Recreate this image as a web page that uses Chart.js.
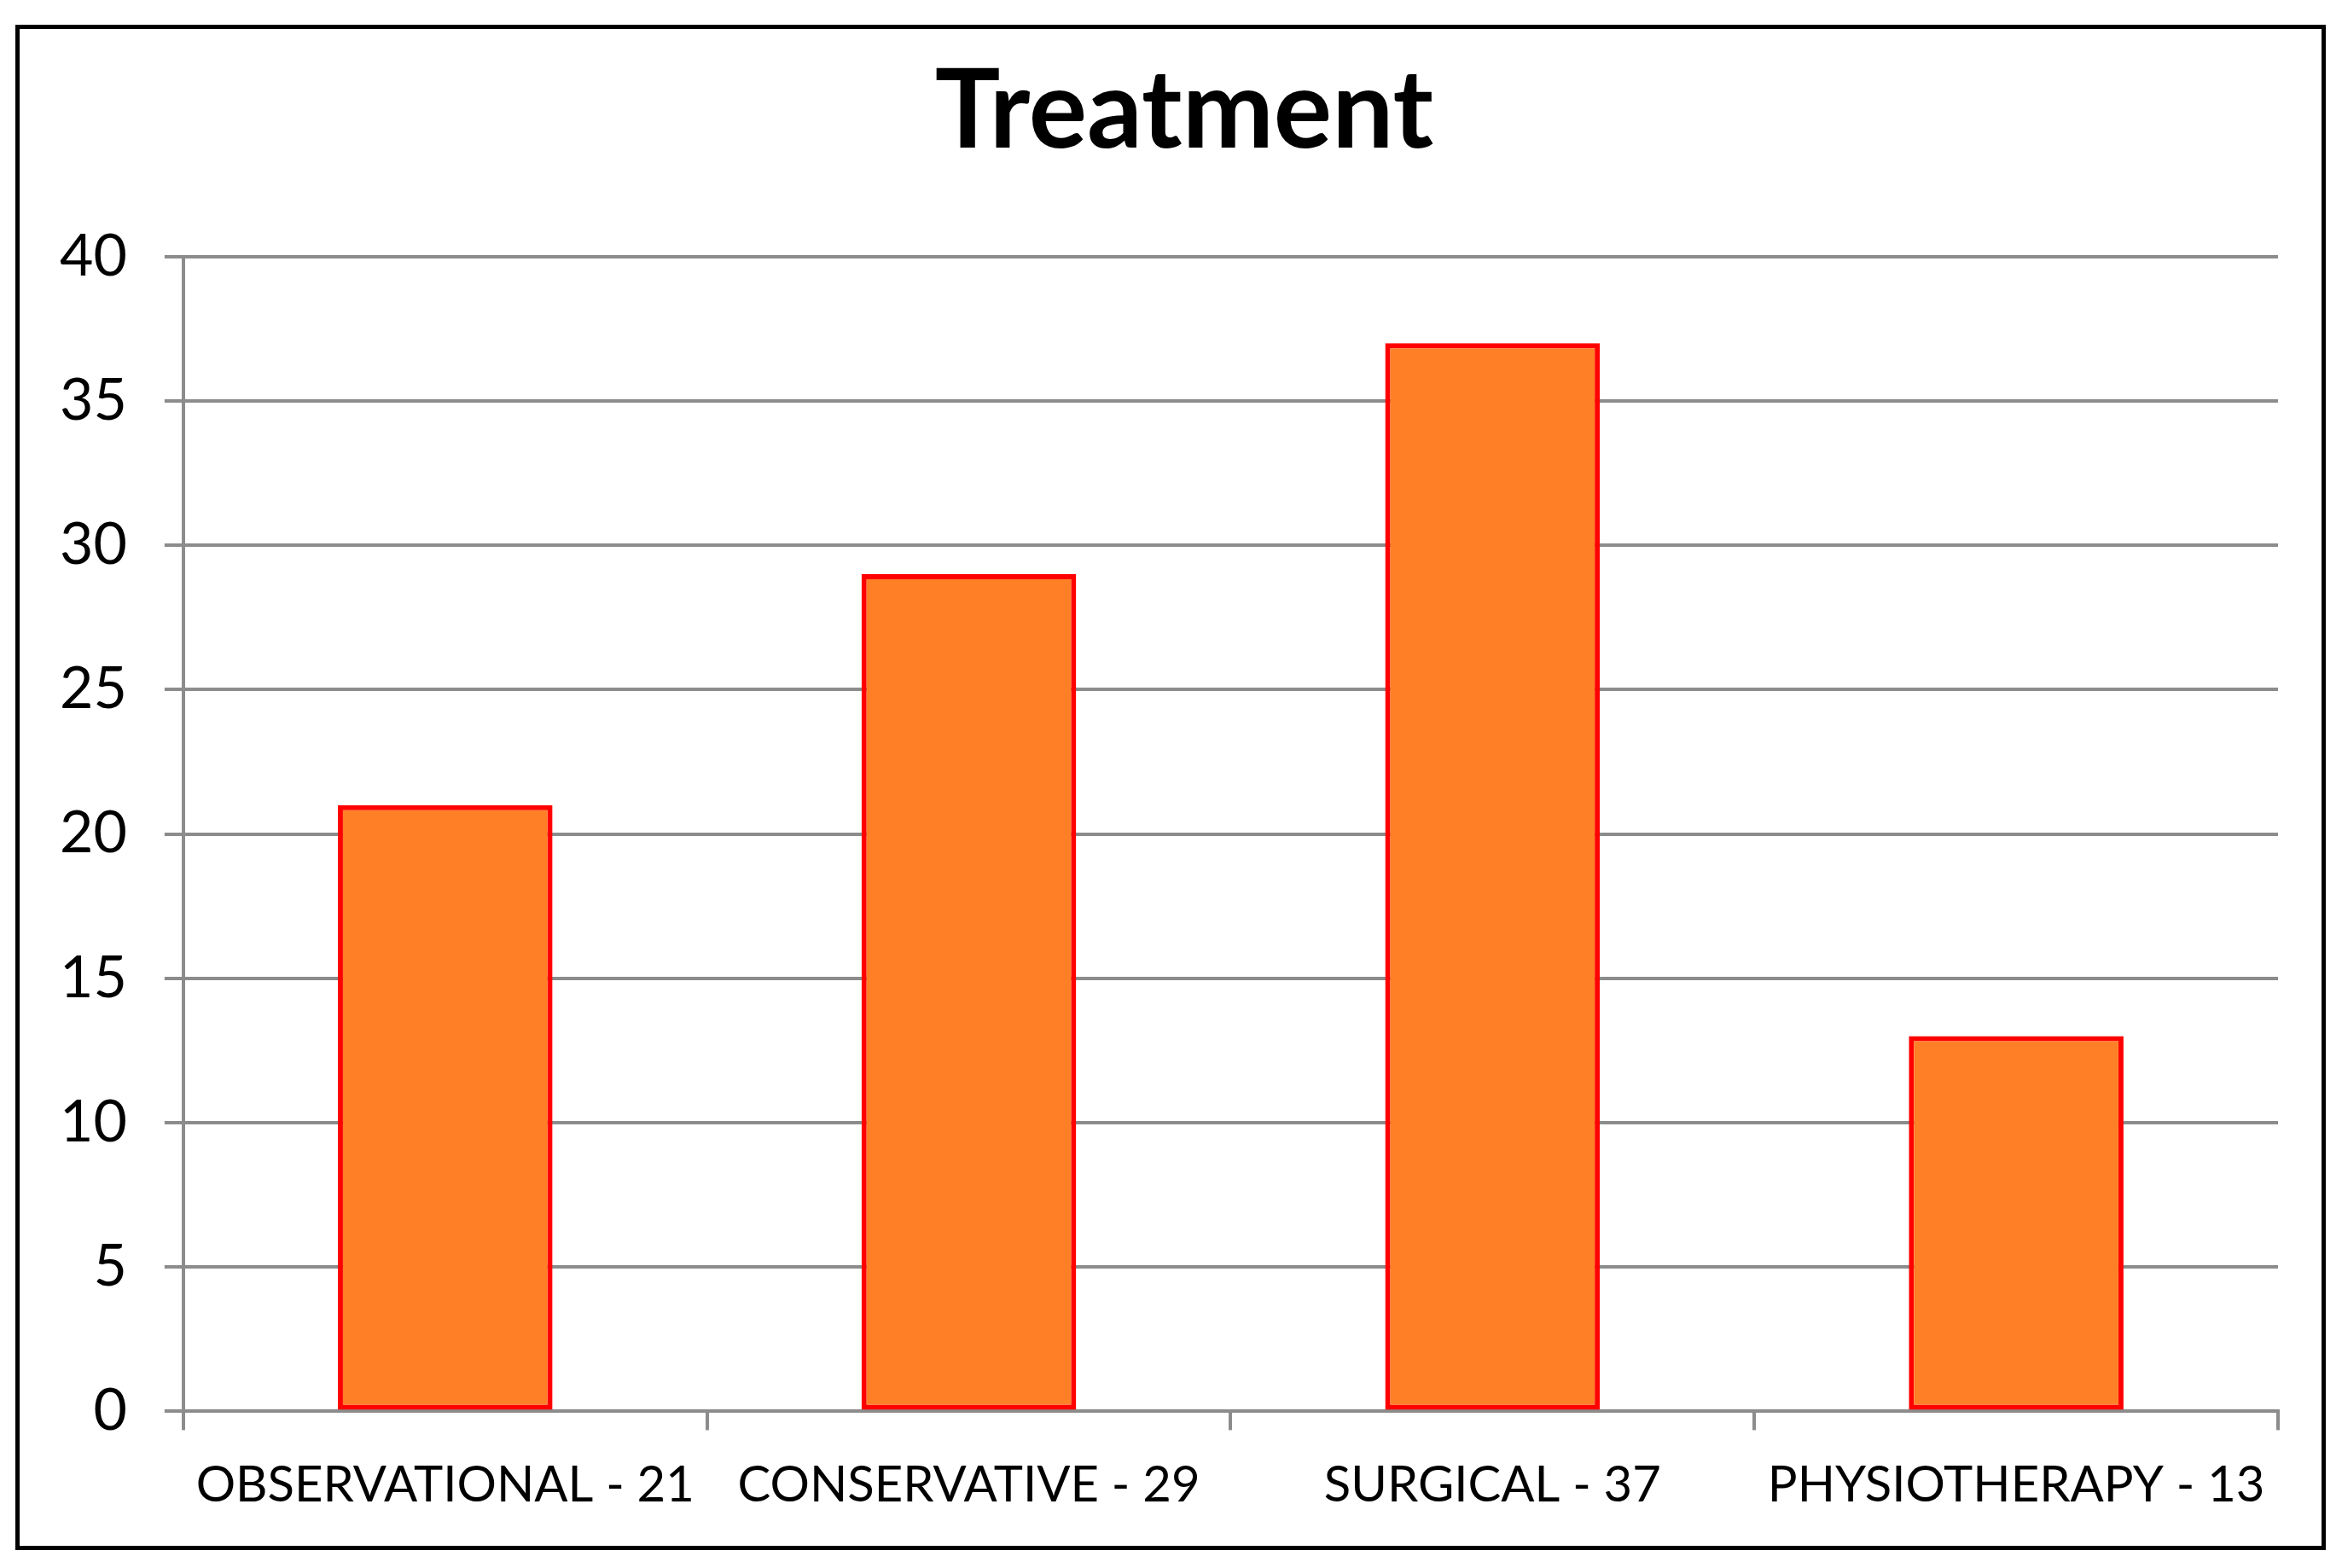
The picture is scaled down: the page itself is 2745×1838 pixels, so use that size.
<!DOCTYPE html>
<html>
<head>
<meta charset="utf-8">
<script src="https://cdn.jsdelivr.net/npm/chart.js@4.4.0/dist/chart.umd.min.js"></script>
<style>
    body { margin: 0; background: #fff; overflow: hidden; }
    #frame {
        position: absolute;
        left: 18px;
        top: 29px;
        width: 2698px;
        height: 1778px;
        border: 5px solid #000;
    }
    canvas { display: block; }
</style>
</head>
<body>
<div id="frame">
    <canvas id="myChart" width="2738" height="1778"></canvas>
</div>
<script>
const categorias = ['OBSERVATIONAL - 21', 'CONSERVATIVE - 29', 'SURGICAL - 37', 'PHYSIOTHERAPY - 13'];
const pacientes = [21, 29, 37, 13];
const yTicks = [0, 5, 10, 15, 20, 25, 30, 35, 40];

const grisEje = '#8c8c8c';

//*** chart

const ctx = document.getElementById('myChart');
new Chart(ctx, {
    type: 'bar',
    data: {
        labels: categorias,
        datasets: [{
            label: 'Treatment',
            data: pacientes,
            backgroundColor: '#ff7f27',
            borderColor: '#ff0000',
            borderWidth: 6,
            borderSkipped: false,
            barPercentage: 0.41,
            categoryPercentage: 1
        }]
    },
    options: {
        responsive: false,
        devicePixelRatio: 1,
        animation: false,
        layout: {
            padding: { left: 3, right: 11, top: 21, bottom: 6 }
        },
        plugins: {
            legend: { display: false },
            tooltip: { enabled: false },
            title: {
                display: true,
                text: 'Treatment',
                color: '#000',
                font: { family: 'Lato', size: 128, weight: 'bold' },
                padding: { top: 0, bottom: 92 }
            }
        },
        scales: {
            x: {
                z: 1, // axis line over the bottom of the bars
                grid: {
                    display: true,
                    drawOnChartArea: false,
                    drawTicks: true,
                    tickLength: 22,
                    color: grisEje,
                    lineWidth: 4
                },
                border: { display: true, color: grisEje, width: 4 },
                ticks: {
                    color: '#000',
                    font: { family: 'Lato', size: 58 },
                    padding: 30,
                    maxRotation: 0,
                    autoSkip: false
                }
            },
            y: {
                min: yTicks[0],
                max: yTicks[yTicks.length - 1],
                afterBuildTicks: function (axis) {
                    axis.ticks = yTicks.map(v => ({ value: v }));
                },
                grid: {
                    color: grisEje,
                    lineWidth: 4,
                    tickLength: 22
                },
                border: { display: true, color: grisEje, width: 4 },
                ticks: {
                    color: '#000',
                    font: { family: 'Lato', size: 68 },
                    padding: 44
                }
            },
            // empty right axis, only there so the title is not centred on the plot
            yDer: {
                type: 'linear',
                position: 'right',
                grid: { display: false },
                border: { display: false },
                ticks: { display: false },
                afterFit: function (axis) {
                    axis.width = 80;
                }
            }
        }
    }
});
</script>
</body>
</html>
